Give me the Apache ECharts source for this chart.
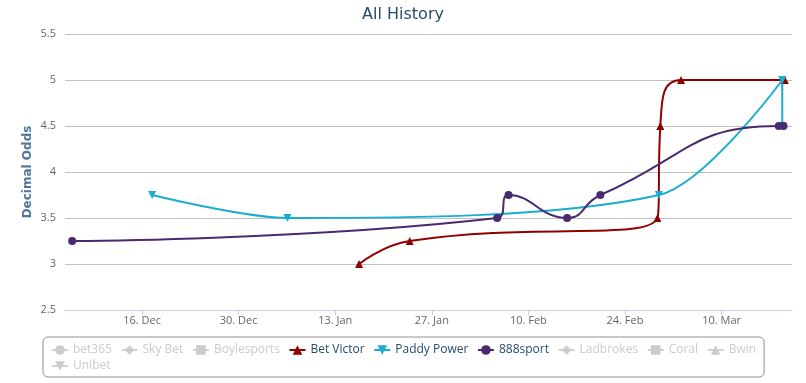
<!DOCTYPE html>
<html><head><meta charset="utf-8">
<script src="https://cdn.jsdelivr.net/npm/echarts@6/dist/echarts.min.js"></script>
<style>html,body{margin:0;padding:0;background:#fff}#c{width:806px;height:383px}</style>
</head><body><div id="c"></div>
<script>
const bookmakers = ['bet365','Sky Bet','Boylesports','Bet Victor','Paddy Power','888sport','Ladbrokes','Coral','Bwin','Unibet'];
const hiddenBookmakers = ['bet365','Sky Bet','Boylesports','Ladbrokes','Coral','Bwin','Unibet'];
const betVictorDates = ['2014-01-16T11:00Z','2014-01-23T19:00Z','2014-02-28T17:00Z','2014-03-01T03:00Z','2014-03-04T03:00Z','2014-03-19T04:00Z'];
const betVictorOdds = [3.0, 3.25, 3.5, 4.5, 5.0, 5.0];
const paddyPowerDates = ['2013-12-17T11:00Z','2014-01-06T02:00Z','2014-02-28T22:00Z','2014-03-18T19:00Z','2014-03-18T19:10Z'];
const paddyPowerOdds = [3.75, 3.5, 3.75, 5.0, 4.5];
const sport888Dates = ['2013-12-05T21:00Z','2014-02-05T11:30Z','2014-02-07T03:00Z','2014-02-15T14:40Z','2014-02-20T10:30Z','2014-03-18T07:00Z','2014-03-18T23:30Z'];
const sport888Odds = [3.25, 3.5, 3.75, 3.5, 3.75, 4.5, 4.5];
const tickDates = ['2013-12-16T00:00Z','2013-12-30T00:00Z','2014-01-13T00:00Z','2014-01-27T00:00Z','2014-02-10T00:00Z','2014-02-24T00:00Z','2014-03-10T00:00Z'];
const tickLabels = ['16. Dec','30. Dec','13. Jan','27. Jan','10. Feb','24. Feb','10. Mar'];
const xRange = ['2013-12-04T20:00Z','2014-03-20T05:00Z'];
const yMin = 2.5, yMax = 5.5, yStep = 0.5;

const palette = ['#2f7ed8','#0d233a','#8bbc21','#910000','#1aadce','#492970','#f28f43','#77a1e5','#c42525','#a6c96a'];
const triDown = 'path://M0,0L10,0L5,10Z';
const symbols = ['circle','diamond','rect','triangle',triDown,'circle','diamond','rect','triangle',triDown];

const seriesData = {
  'Bet Victor': [betVictorDates, betVictorOdds],
  'Paddy Power': [paddyPowerDates, paddyPowerOdds],
  '888sport': [sport888Dates, sport888Odds]
};
const tickTimes = tickDates.map(d => Date.parse(d));
const selected = {};
bookmakers.forEach(b => selected[b] = hiddenBookmakers.indexOf(b) < 0);

function toPoints(dates, vals) { return dates.map((d, k) => [Date.parse(d), vals[k]]); }
function lineSeries(name, i, data, smooth) {
  return {
    name, type: 'line', data, smooth,
    symbol: symbols[i], symbolSize: 8, showSymbol: true,
    color: palette[i],
    lineStyle: { width: 2, color: palette[i] },
    itemStyle: { color: palette[i] },
    emphasis: { disabled: true }
  };
}

const series = [];
bookmakers.forEach((name, i) => {
  const src = seriesData[name];
  if (!src) { series.push(lineSeries(name, i, [], true)); return; }
  const pts = toPoints(src[0], src[1]);
  if (name === 'Paddy Power') {
    // the final drop at the same moment is drawn as a straight segment
    series.push(lineSeries(name, i, pts.slice(0, pts.length - 1), 0.3));
    series.push(lineSeries(name, i, pts.slice(pts.length - 2), false));
  } else {
    series.push(lineSeries(name, i, pts, true));
  }
});

const legendBase = {
  orient: 'horizontal', itemWidth: 16, itemHeight: 12, itemGap: 8.6,
  inactiveColor: '#cccccc', selected,
  textStyle: { fontFamily: 'Open Sans', fontSize: 12, color: '#274b6d', padding: [0,0,0,0] }
};

const chart = echarts.init(document.getElementById('c'), null, { renderer: 'canvas' });
chart.setOption({
  animation: false,
  backgroundColor: '#ffffff',
  title: {
    text: 'All History', left: 'center', top: 2,
    textStyle: { fontFamily: 'DejaVu Sans', fontSize: 16, fontWeight: 'normal', color: '#274b6d' }
  },
  legend: [
    Object.assign({}, legendBase, {
      data: bookmakers.slice(0, 9), left: 43, top: 337,
      padding: [7, 8, 21, 8],
      borderColor: '#909090', borderWidth: 1, borderRadius: 5
    }),
    Object.assign({}, legendBase, {
      data: bookmakers.slice(9), left: 51, top: 360, padding: 0
    })
  ],
  grid: { left: 65, right: 14, top: 34, bottom: 73, containLabel: false, outerBoundsMode: 'none' },
  xAxis: {
    type: 'value',
    min: Date.parse(xRange[0]), max: Date.parse(xRange[1]),
    splitLine: { show: false },
    axisLine: { show: true, lineStyle: { color: '#C0D0E0', width: 1 } },
    axisTick: { show: true, length: 5, lineStyle: { color: '#C0D0E0' }, customValues: tickTimes },
    axisLabel: {
      customValues: tickTimes, margin: 5,
      fontFamily: 'Open Sans', fontSize: 11, color: '#666666',
      formatter: v => { const k = tickTimes.indexOf(v); return k >= 0 ? tickLabels[k] : ''; }
    }
  },
  yAxis: {
    type: 'value', min: yMin, max: yMax, interval: yStep,
    name: 'Decimal Odds', nameLocation: 'middle', nameGap: 31, nameRotate: 90, nameMoveOverlap: false,
    nameTextStyle: { fontFamily: 'DejaVu Sans', fontSize: 12, fontWeight: 'bold', color: '#4d759e' },
    axisLine: { show: false }, axisTick: { show: false },
    splitLine: { lineStyle: { color: '#C0C0C0', width: 1 } },
    axisLabel: { margin: 9, fontFamily: 'Open Sans', fontSize: 11, color: '#666666' }
  },
  series
});
</script></body></html>
